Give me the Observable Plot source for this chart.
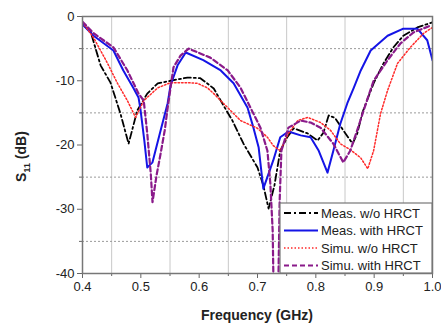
<!DOCTYPE html>
<html>
<head>
<meta charset="utf-8">
<script src="https://cdn.jsdelivr.net/npm/d3@7"></script>
<script src="https://cdn.jsdelivr.net/npm/@observablehq/plot@0.6"></script>
<style>
  body { margin: 0; background: #fff; }
  #chart { width: 441px; height: 327px; }
</style>
</head>
<body>
<div id="chart"></div>
<script>
// Series names
const seriesNames = ["Meas. w/o HRCT", "Meas. with HRCT", "Simu. w/o HRCT", "Simu. with HRCT"];

// Meas. w/o HRCT
const measWoF  = [0.400,0.414,0.431,0.448,0.465,0.479,0.494,0.511,0.529,0.551,0.580,0.602,0.625,0.642,0.657,0.676,0.700,0.710,0.719,0.729,0.739,0.751,0.762,0.786,0.803,0.813,0.822,0.833,0.847,0.863,0.871,0.880,0.899,0.916,0.933,0.950,0.974,1.000];
const measWoDB = [-1.2,-2.4,-7.6,-10.3,-15.1,-19.8,-14.6,-12.0,-10.4,-10.0,-9.5,-9.6,-11.2,-13.9,-16.2,-19.8,-23.5,-26.3,-29.9,-26.3,-20.9,-18.8,-17.4,-18.2,-19.3,-18.1,-15.4,-15.8,-17.7,-19.8,-18.2,-14.9,-10.4,-7.3,-4.8,-3.0,-1.7,-0.9];

// Meas. with HRCT
const measWF  = [0.400,0.419,0.453,0.470,0.487,0.496,0.499,0.506,0.511,0.520,0.534,0.546,0.551,0.563,0.577,0.607,0.637,0.659,0.683,0.693,0.702,0.710,0.727,0.739,0.753,0.774,0.791,0.805,0.820,0.830,0.842,0.854,0.865,0.877,0.894,0.923,0.950,0.974,0.991,1.000];
const measWDB = [-1.2,-3.0,-5.3,-8.4,-11.1,-12.6,-14.2,-19.3,-23.5,-22.7,-17.7,-13.5,-10.7,-7.6,-5.6,-6.8,-8.4,-10.4,-14.2,-17.3,-20.4,-26.8,-22.4,-18.8,-17.9,-18.5,-18.8,-20.9,-24.3,-20.9,-16.7,-13.5,-11.1,-8.4,-5.3,-3.0,-1.9,-1.9,-3.7,-6.8];

// Simu. w/o HRCT
const simWoF  = [0.400,0.419,0.443,0.460,0.477,0.491,0.505,0.529,0.551,0.580,0.597,0.614,0.625,0.649,0.671,0.700,0.717,0.727,0.739,0.753,0.769,0.786,0.808,0.825,0.842,0.860,0.877,0.889,0.899,0.911,0.923,0.940,0.962,0.985,1.000];
const simWoDB = [-0.9,-3.3,-7.3,-10.4,-13.1,-15.7,-13.1,-11.1,-10.3,-10.3,-10.4,-11.1,-12.0,-14.2,-16.2,-17.4,-18.8,-20.1,-20.9,-18.2,-16.2,-15.7,-16.5,-17.7,-19.8,-20.8,-22.0,-23.7,-20.9,-15.1,-11.5,-7.3,-4.8,-2.6,-1.7];

// Simu. with HRCT
const simWF  = [0.400,0.419,0.453,0.477,0.496,0.505,0.511,0.517,0.520,0.527,0.534,0.541,0.546,0.556,0.568,0.582,0.619,0.649,0.671,0.688,0.705,0.717,0.722,0.726,0.728,0.733,0.736,0.738,0.741,0.753,0.774,0.791,0.808,0.830,0.847,0.859,0.871,0.882,0.899,0.923,0.945,0.967,0.997];
const simWDB = [-0.8,-2.6,-4.8,-8.4,-12.0,-13.1,-18.2,-24.4,-28.9,-24.7,-21.3,-17.7,-14.2,-7.9,-6.1,-5.0,-6.4,-8.4,-11.1,-14.2,-17.3,-20.9,-26.0,-33.3,-45.0,-48.0,-40.0,-28.6,-20.9,-17.3,-16.2,-16.5,-17.3,-19.8,-22.7,-20.9,-17.7,-14.6,-10.0,-6.8,-4.2,-2.5,-1.4];

// Tick values
const xMajor = [0.4, 0.5, 0.6, 0.7, 0.8, 0.9, 1.0];
const xMinor = [0.45, 0.55, 0.65, 0.75, 0.85, 0.95];
const yMajor = [0, -10, -20, -30, -40];
const yMinor = [-5, -15, -25, -35];

const styles = [
  {stroke: "#000000", strokeWidth: 1.8, strokeDasharray: "7,3,2,3"},
  {stroke: "#1414e6", strokeWidth: 2, strokeDasharray: "none"},
  {stroke: "#ff2a2a", strokeWidth: 1.5, strokeDasharray: "1.5,2"},
  {stroke: "#8a1a8a", strokeWidth: 2.2, strokeDasharray: "5,3"}
];

const toRows = (fs, ds) => fs.map((f, i) => ({f, db: ds[i]}));
const seriesData = [
  toRows(measWoF, measWoDB),
  toRows(measWF, measWDB),
  toRows(simWoF, simWoDB),
  toRows(simWF, simWDB)
];

const fmtY = d => d === 0 ? "0" : "-" + Math.abs(d);

const plot = Plot.plot({
  width: 441,
  height: 327,
  marginLeft: 82,
  marginRight: 9,
  marginTop: 16,
  marginBottom: 54,
  style: {fontFamily: "'Liberation Sans', Arial, sans-serif", fontSize: "13px", color: "#222", background: "#fff"},
  x: {domain: [0.4, 1.0]},
  y: {domain: [-40, 0]},
  marks: [
    Plot.gridX(xMinor, {stroke: "#c8c8c8", strokeOpacity: 1, strokeWidth: 1}),
    Plot.gridY(yMinor, {stroke: "#9a9a9a", strokeOpacity: 1, strokeWidth: 1, strokeDasharray: "2,2"}),
    Plot.axisX(xMajor, {tickSize: 5, tickPadding: 3, tickFormat: d => d.toFixed(1), label: null, stroke: "#666", fontSize: 13}),
    Plot.axisX(xMinor, {tickSize: 3, tickFormat: () => "", label: null, stroke: "#666"}),
    Plot.axisY(yMajor, {tickSize: 5, tickPadding: 3, tickFormat: fmtY, label: null, stroke: "#666", fontSize: 13}),
    Plot.axisY(yMinor, {tickSize: 3, tickFormat: () => "", label: null, stroke: "#666"}),
    ...seriesData.map((rows, i) => Plot.line(rows, {
      x: "f", y: "db", clip: true, curve: "linear",
      stroke: styles[i].stroke, strokeWidth: styles[i].strokeWidth,
      strokeDasharray: styles[i].strokeDasharray === "none" ? undefined : styles[i].strokeDasharray
    })),
    Plot.frame({stroke: "#777", strokeWidth: 1.5})
  ]
});

document.getElementById("chart").appendChild(plot);

// Axis titles and legend
const svg = d3.select(plot);
const xs = plot.scale("x"), ys = plot.scale("y");
const [x0, x1] = xs.range;
const [yb, yt] = ys.range;

svg.append("text")
  .attr("x", (x0 + x1) / 2)
  .attr("y", 320)
  .style("text-anchor", "middle")
  .attr("font-weight", "bold")
  .attr("font-size", 14)
  .attr("fill", "#222")
  .text("Frequency (GHz)");

const yl = svg.append("text")
  .attr("transform", `translate(26,${(yt + yb) / 2 + 12}) rotate(-90)`)
  .style("text-anchor", "middle")
  .attr("font-weight", "bold")
  .attr("font-size", 14)
  .attr("fill", "#222");
yl.append("tspan").text("S");
yl.append("tspan").attr("font-size", 9).attr("dy", 4).text("11");
yl.append("tspan").attr("dy", -4).text(" (dB)");

// Legend box
const lgX = 280, lgY = 203, lgW = x1 - 280, lgH = yb - 203;
const lg = svg.append("g");
lg.append("rect").attr("x", lgX).attr("y", lgY).attr("width", lgW).attr("height", lgH)
  .style("fill", "#fff").style("stroke", "#777").style("stroke-width", "1.2px");
seriesNames.forEach((name, i) => {
  const yy = lgY + 10 + i * 17.5;
  lg.append("path")
    .attr("d", `M${lgX + 4},${yy}H${lgX + 38}`)
    .style("fill", "none")
    .style("stroke", styles[i].stroke)
    .style("stroke-width", styles[i].strokeWidth + "px")
    .style("stroke-dasharray", styles[i].strokeDasharray);
  lg.append("text").attr("x", lgX + 41).attr("y", yy).attr("dy", "0.35em")
    .style("text-anchor", "start")
    .attr("font-size", 13).style("fill", "#222").text(name);
});
</script>
</body>
</html>
